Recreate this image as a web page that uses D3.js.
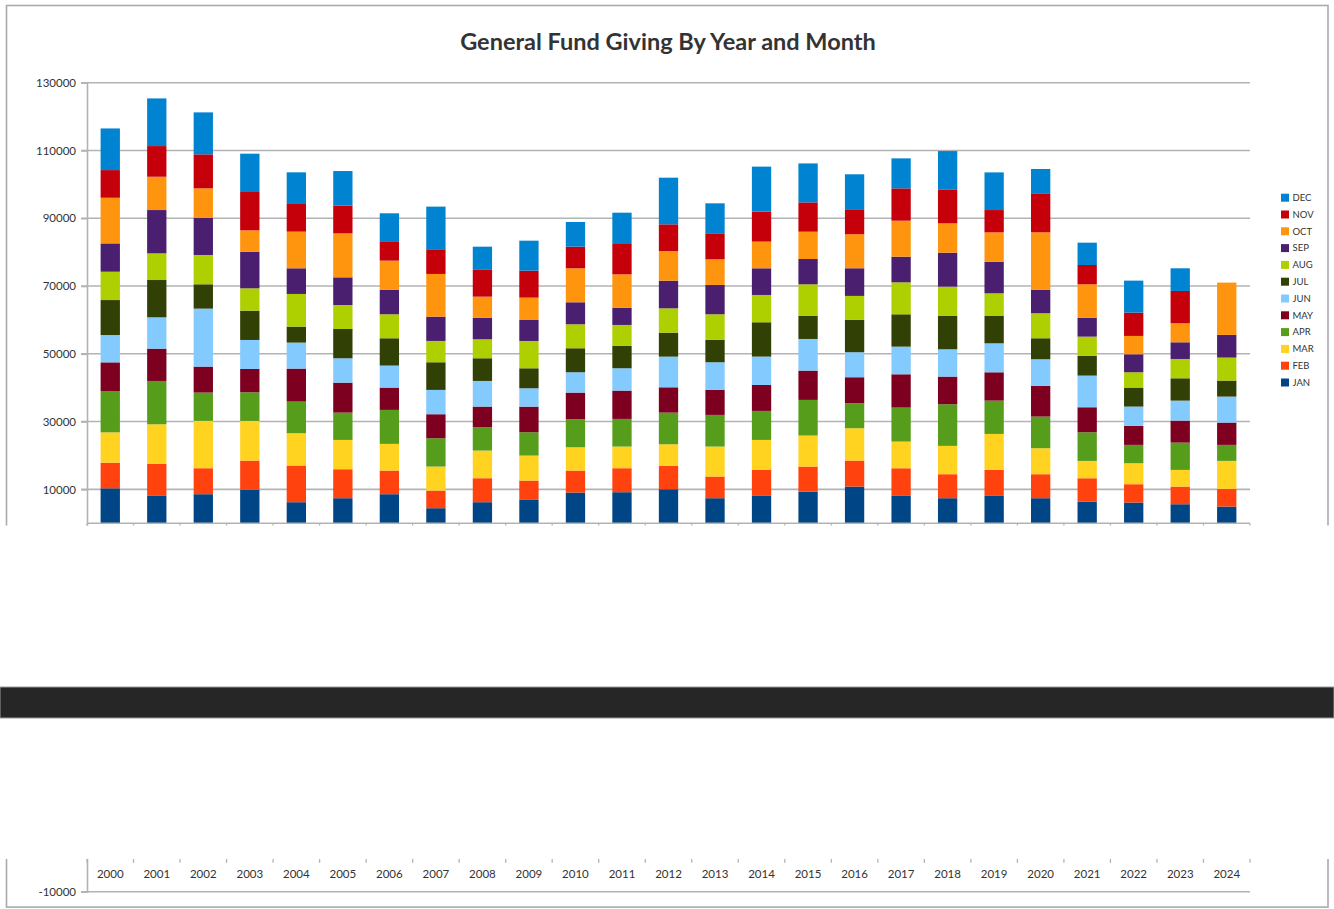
<!DOCTYPE html>
<html>
<head>
<meta charset="utf-8">
<script src="https://d3js.org/d3.v7.min.js"></script>
<style>
body { margin: 0; background: #fff; }
text { font-family: Lato, "Liberation Sans", sans-serif; fill: #333; }
</style>
</head>
<body>
<script>
// data (2000 - 2024)
const years = ["2000","2001","2002","2003","2004","2005","2006","2007","2008","2009","2010","2011","2012",
               "2013","2014","2015","2016","2017","2018","2019","2020","2021","2022","2023","2024"];
const months = ["JAN","FEB","MAR","APR","MAY","JUN","JUL","AUG","SEP","OCT","NOV","DEC"];

const jan = [10300,8060,8560,9830,6200,7380,8560,4430,6200,6880,9050,9150,10030,7380,8060,9340,10820,8060,7380,8060,7380,6390,6100,5600,4920];
const feb = [7570,9440,7670,8650,10820,8550,6980,5210,7080,5700,6490,7080,6880,6390,7670,7380,7670,8160,7080,7670,7080,6880,5410,5210,5210];
const mar = [8950,11700,13960,11700,9540,8650,7870,7080,8160,7380,6880,6390,6390,8850,8850,9150,9540,7870,8360,10620,7670,5110,6190,4920,8260];
const apr = [12190,12780,8360,8460,9340,8060,10030,8360,6880,6880,8260,8160,9340,9340,8560,10520,7380,10030,12290,9830,9340,8460,5410,8060,4720];
const may = [8460,9540,7670,6880,9730,8850,6590,7080,6100,7570,7870,8360,7470,7380,7670,8650,7670,9830,8160,8360,9050,7380,5610,6490,6590];
const jun = [8060,9240,17110,8560,7670,7180,6490,7180,7570,5410,6000,6590,9050,8160,8360,9340,7380,8160,8060,8550,7870,9340,5700,5900,7670];
const jul = [10330,11010,7180,8650,4720,8650,8060,8160,6690,5900,7080,6590,7080,6590,10130,6880,9540,9540,9830,8060,6190,5800,5610,6590,4720];
const aug = [8360,7870,8650,6590,9640,7080,7080,6290,5600,8060,7080,6190,7180,7570,8060,9240,7080,9440,8650,6690,7380,5700,4520,5700,6790];
const sep = [8360,12780,10910,10820,7570,8160,7180,7180,6390,6200,6490,5110,8160,8650,7870,7470,8160,7570,10030,9340,6880,5610,5310,4920,6690];
const oct = [13470,9830,8750,6290,10820,12980,8650,12590,6190,6590,10030,9830,8750,7570,7870,8060,10030,10620,8650,8650,17010,9830,5410,5610,15440];
const nov = [8160,9050,10030,11310,8160,8160,5510,7280,8060,7960,6390,8950,7870,7670,8850,8650,7180,9540,10030,6590,11510,5700,6880,9540,0];
const dec = [12290,14060,12390,11310,9340,10230,8460,12590,6690,8850,7280,9240,13770,8850,13280,11500,10520,8850,11310,11110,7180,6590,9440,6690,0];

const yTicks = [-10000,10000,30000,50000,70000,90000,110000,130000];
const colors = ["#004586","#ff420e","#ffd320","#579d1c","#7e0021","#83caff",
                "#314004","#aecf00","#4b1f6f","#ff950e","#c5000b","#0084d1"];

const monthly = [jan,feb,mar,apr,may,jun,jul,aug,sep,oct,nov,dec];
const rows = years.map(function(yr, i) {
  var r = {year: yr};
  monthly.forEach(function(arr, j) { r[months[j]] = arr[i]; });
  return r;
});
const series = d3.stack().keys(months)(rows);

const W = 1334, H = 909;
const grid = "#b3b3b3";
const cut = 524.3;   // where the chart is split over the two pages

var x = d3.scaleBand().domain(years).range([87, 1250]).paddingInner(0.585).paddingOuter(0.2925);
var y = d3.scaleLinear().domain([-10000, 130000]).range([557.1, 82.7]);

var svg = d3.select("body").append("svg").attr("width", W).attr("height", H);
svg.append("rect").attr("width", W).attr("height", H).attr("fill", "#fff");

var defs = svg.append("defs");
defs.append("clipPath").attr("id", "page1").append("rect")
  .attr("x", 0).attr("y", 0).attr("width", W).attr("height", 525.5);
defs.append("clipPath").attr("id", "page2").append("rect")
  .attr("x", 0).attr("y", cut).attr("width", W).attr("height", 80);

// the whole chart; drawn once per page, texts only where that page shows them
function drawChart(g, top) {
  var onPage = function(py) { return top ? py < cut : py > cut; };

  // outer frame
  g.append("rect")
    .attr("x", 6.5).attr("y", 5.5).attr("width", 1321.5).attr("height", 567)
    .attr("fill", "none").attr("stroke", "#aaa").attr("stroke-width", 1.6);

  // gridlines
  g.selectAll(".grid").data(yTicks).enter().append("line")
    .attr("x1", 81).attr("x2", 1250)
    .attr("y1", function(d) { return y(d); }).attr("y2", function(d) { return y(d); })
    .attr("stroke", grid).attr("stroke-width", 1.6);

  // bars
  if (top) {
    g.selectAll(".month").data(series).enter().append("g")
      .attr("fill", function(d, i) { return colors[i]; })
      .selectAll("rect").data(function(d) { return d; }).enter().append("rect")
      .attr("x", function(d) { return x(d.data.year); })
      .attr("width", x.bandwidth())
      .attr("y", function(d) { return y(d[1]); })
      .attr("height", function(d) { return y(d[0]) - y(d[1]); });
  }

  // y axis
  var ya = g.append("g").attr("transform", "translate(87,0)")
    .call(d3.axisLeft(y).tickValues(yTicks.filter(function(v) { return onPage(y(v)); }))
      .tickSize(6).tickPadding(5).tickFormat(function(v) { return String(v); }));
  ya.select(".domain").attr("stroke", grid).attr("stroke-width", 1.6);
  ya.selectAll(".tick line").attr("stroke", grid).attr("stroke-width", 1.6);
  ya.selectAll("text").style("font-size", "11.5px").attr("fill", "#333");

  // category axis at zero
  var y0 = y(0);
  g.append("line").attr("x1", 87).attr("x2", 1250).attr("y1", y0).attr("y2", y0)
    .attr("stroke", grid).attr("stroke-width", 1.6);
  g.selectAll(".btick").data(d3.range(years.length + 1)).enter().append("line")
    .attr("x1", function(i) { return 87 + i * x.step(); })
    .attr("x2", function(i) { return 87 + i * x.step(); })
    .attr("y1", y0).attr("y2", y0 + 5)
    .attr("stroke", grid).attr("stroke-width", 1.3);

  if (!top) {
    g.selectAll(".xlab").data(years).enter().append("text")
      .attr("x", function(d) { return x(d) + x.bandwidth() / 2; })
      .attr("y", y0 + 16.3)
      .attr("dy", "0.35em")
      .attr("text-anchor", "middle")
      .style("font-size", "11.5px")
      .text(function(d) { return d; });
    return;
  }

  // title
  g.append("text").attr("x", 668).attr("y", 50)
    .attr("text-anchor", "middle")
    .style("font-size", "23.5px").style("font-weight", "bold").attr("fill", "#222")
    .text("General Fund Giving By Year and Month");

  // legend, DEC on top
  var leg = g.selectAll(".legend").data(months.slice().reverse()).enter().append("g")
    .attr("transform", function(d, i) { return "translate(1281," + (197.7 + i * 16.8) + ")"; });
  leg.append("rect").attr("x", 0).attr("y", -4).attr("width", 8).attr("height", 8)
    .attr("fill", function(d) { return colors[months.indexOf(d)]; });
  leg.append("text").attr("x", 11.5).attr("y", 0).attr("dy", "0.35em")
    .style("font-size", "9.5px")
    .text(function(d) { return d; });
}

var p1 = svg.append("g").attr("clip-path", "url(#page1)");
drawChart(p1, true);

var p2 = svg.append("g").attr("transform", "translate(0,334.6)")
  .append("g").attr("clip-path", "url(#page2)");
drawChart(p2, false);

// page break band
svg.append("rect").attr("x", 0).attr("y", 687).attr("width", W).attr("height", 31)
  .attr("fill", "#262626").attr("stroke", "#9a9a9a").attr("stroke-width", 1);
</script>
</body>
</html>
